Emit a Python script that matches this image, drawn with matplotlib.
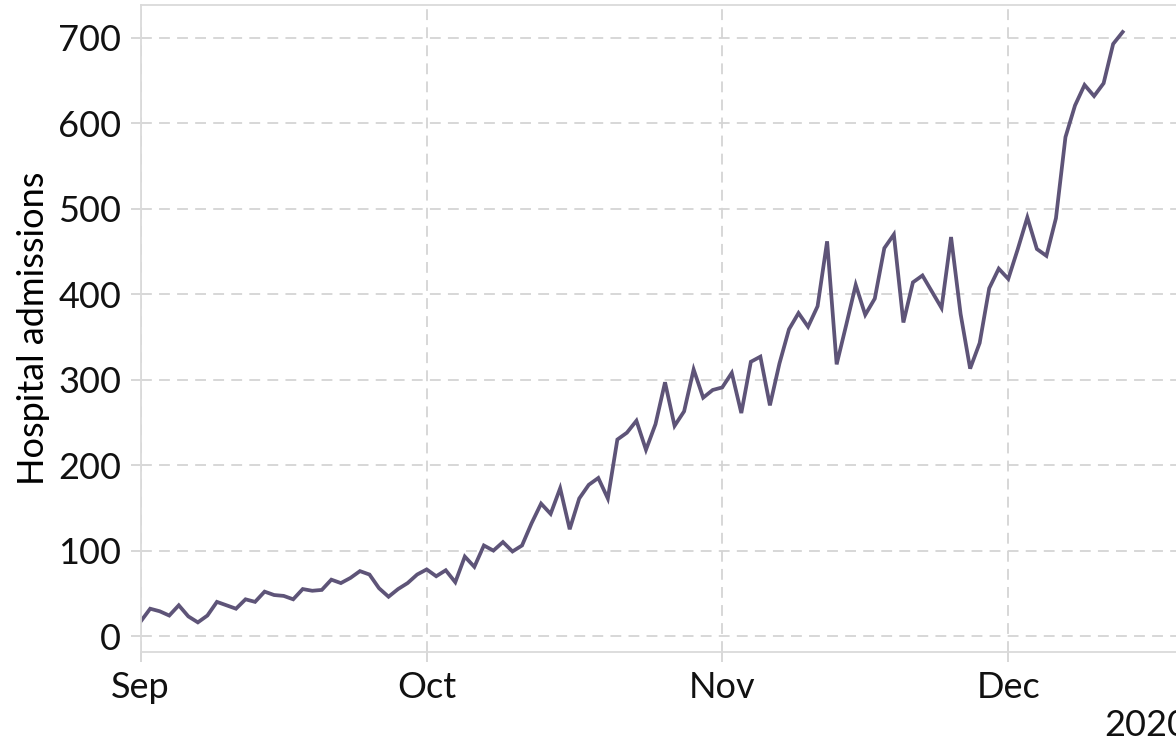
import matplotlib
matplotlib.use('Agg')
import matplotlib.pyplot as plt
import matplotlib.dates as mdates
import numpy as np
import pandas as pd

# Daily hospital admissions, 1 Sep - 13 Dec 2020
start_date = '2020-09-01'
admissions = [
    17, 32, 29, 24, 36, 23, 16, 24, 40, 36,
    32, 43, 40, 52, 48, 47, 43, 55, 53, 54,
    66, 62, 68, 76, 72, 56, 46, 55, 62, 72,
    78, 70, 77, 63, 93, 81, 106, 100, 110, 99,
    106, 132, 155, 143, 173, 125, 161, 177, 185, 161,
    230, 238, 252, 218, 248, 297, 246, 263, 312, 279,
    288, 291, 308, 261, 321, 327, 270, 319, 359, 378,
    362, 386, 462, 318, 364, 411, 376, 395, 454, 470,
    367, 414, 422, 403, 384, 467, 377, 313, 343, 407,
    430, 418, 453, 490, 453, 445, 489, 584, 621, 645,
    632, 647, 693, 707,
]
dates = pd.date_range(start_date, periods=len(admissions))

plt.rcParams['font.family'] = ['Lato', 'DejaVu Sans']
plt.rcParams['font.size'] = 26

fig = plt.figure(figsize=(11.76, 7.45), dpi=100)
ax = fig.add_axes([0.1196, 0.1248, 0.891, 0.8685])

ax.plot(dates, admissions, color='#5e5478', lw=2.7, solid_joinstyle='miter')

ax.set_xlim(pd.Timestamp('2020-09-01'), pd.Timestamp('2020-09-01') + pd.Timedelta(days=109.9))
ax.set_ylim(-18.7, 738.6)
ax.set_yticks(np.arange(0, 701, 100))

loc = mdates.MonthLocator()
ax.xaxis.set_major_locator(loc)
ax.xaxis.set_major_formatter(mdates.ConciseDateFormatter(loc))

ax.grid(True, color='#d4d4d4', lw=1.3, dashes=(6, 4))
ax.set_axisbelow(True)
for s in ax.spines.values():
    s.set_color('#dadada')
    s.set_linewidth(1.3)
ax.tick_params(length=7, width=1.3, color='#d4d4d4', pad=7, labelcolor='#111111')

ax.set_ylabel('Hospital admissions', labelpad=6)

fig.savefig('out.png', dpi=100)
